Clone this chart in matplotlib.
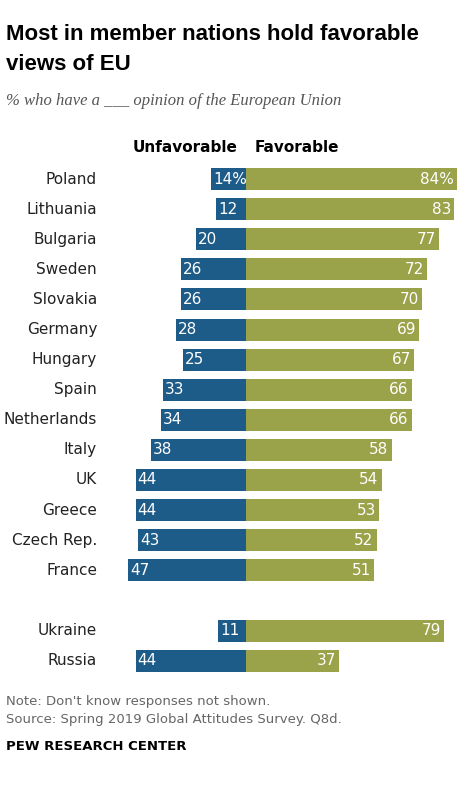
import numpy as np
from matplotlib import pyplot as plt

countries = ['Poland', 'Lithuania', 'Bulgaria', 'Sweden', 'Slovakia', 'Germany',
             'Hungary', 'Spain', 'Netherlands', 'Italy', 'UK', 'Greece',
             'Czech Rep.', 'France', 'Ukraine', 'Russia']
unfavorable = [14, 12, 20, 26, 26, 28, 25, 33, 34, 38, 44, 44, 43, 47, 11, 44]
favorable = [84, 83, 77, 72, 70, 69, 67, 66, 66, 58, 54, 53, 52, 51, 79, 37]
rows = list(range(14)) + [15, 16]

W, H = 474, 785
BLUE = '#1d5b88'
GREEN = '#9aa24a'
PX = 2.51  # pixels per percentage point
X0 = 246   # pixel of zero line
Y0 = 179   # pixel of first row
PITCH = 30.1

fig = plt.figure(figsize=(W / 100, H / 100), dpi=100)
ax = fig.add_axes([0, 0, 1, 1])
ax.set_xlim(-X0 / PX, (W - X0) / PX)
ax.set_ylim((H - Y0) / PITCH, -Y0 / PITCH)
ax.axis('off')

bh = 22 / PITCH
ax.barh(rows, [-u for u in unfavorable], height=bh, color=BLUE)
ax.barh(rows, favorable, height=bh, color=GREEN)

for i, (r, c, u, f) in enumerate(zip(rows, countries, unfavorable, favorable)):
    ut = f'{u}%' if i == 0 else str(u)
    ft = f'{f}%' if i == 0 else str(f)
    ax.text(-u + 0.8, r, ut, color='white', va='center', ha='left', fontsize=11)
    ax.text(f - 1.2, r, ft, color='white', va='center', ha='right', fontsize=11)
    fig.text(97 / W, 1 - (Y0 + r * PITCH) / H, c, ha='right', va='center',
             fontsize=11, color='#222222')

def ftext(x, y, s, **kw):
    fig.text(x / W, 1 - y / H, s, **kw)

ftext(185, 147, 'Unfavorable', ha='center', va='center', fontsize=11, fontweight='bold')
ftext(297, 147, 'Favorable', ha='center', va='center', fontsize=11, fontweight='bold')

ftext(6, 35, 'Most in member nations hold favorable', va='center', fontsize=16,
      fontweight='bold', family='Liberation Sans')
ftext(6, 64, 'views of EU', va='center', fontsize=16, fontweight='bold',
      family='Liberation Sans')
ftext(6, 101, '% who have a ___ opinion of the European Union', va='center',
      fontsize=12, style='italic', family='Liberation Serif', color='#555555')
ftext(6, 702, "Note: Don't know responses not shown.", va='center', fontsize=9.5,
      color='#666666')
ftext(6, 720, 'Source: Spring 2019 Global Attitudes Survey. Q8d.', va='center',
      fontsize=9.5, color='#666666')
ftext(6, 746, 'PEW RESEARCH CENTER', va='center', fontsize=9.5, fontweight='bold')

fig.savefig('out.png', dpi=100, facecolor='white')
